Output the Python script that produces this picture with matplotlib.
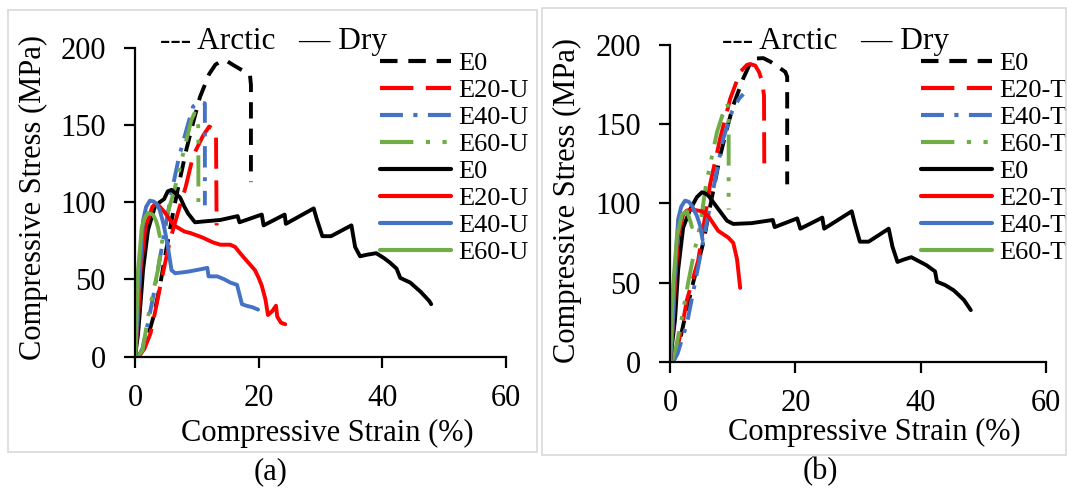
import matplotlib
matplotlib.use("Agg")
import matplotlib.pyplot as plt
from matplotlib.patches import Rectangle

plt.rcParams['font.family'] = ['Liberation Serif', 'DejaVu Serif']

# ---- panel (a): untreated ----
a_arc_e0_x = [0.5, 1.0, 2.0, 3.0, 4.0, 5.0, 6.0, 7.0, 8.3, 9.5, 10.5, 12.0, 13.0, 14.0, 15.0, 16.0, 17.5, 18.6, 18.75, 18.75]
a_arc_e0_y = [0, 3, 12, 26, 45, 68, 90, 110, 134, 153, 168, 183, 189, 191.5, 191, 188.5, 185, 182, 176, 113]
a_arc_e20_x = [0.6, 1.5, 2.5, 3.2, 4.3, 5.7, 7.0, 8.2, 9.4, 11.0, 12.0, 12.8, 13.1, 13.2]
a_arc_e20_y = [0, 5, 15, 28, 50, 76, 94, 110, 130, 143, 149, 147, 143, 85]
a_arc_e40_x = [0.5, 1.2, 2.1, 3.0, 3.7, 5.0, 6.1, 7.1, 8.4, 9.4, 10.5, 11.3, 11.3]
a_arc_e40_y = [0, 5, 22, 40, 56, 86, 110, 129, 148, 162, 165, 164, 98]
a_arc_e60_x = [0.4, 1.2, 2.4, 3.7, 4.8, 6.5, 7.4, 8.3, 9.1, 9.6, 10.2, 10.25, 10.25]
a_arc_e60_y = [0, 4, 32, 56, 86, 110, 125, 140, 153, 157.5, 156.5, 136, 97]

a_dry_e0_x = [0, 0.5, 1.0, 1.3, 2.1, 3.2, 4.0, 4.7, 5.3, 5.9, 6.5, 7.3, 8.0, 8.6, 9.7, 11.0, 13.8, 16.6, 16.9,
              20.5, 20.8, 24.2, 24.4, 28.9, 29.4, 30.3, 31.7, 35.0, 35.6, 36.4, 37.5, 39.0, 40.2, 41.2, 42.3,
              42.9, 44.5, 46.2, 47.6, 47.9]
a_dry_e0_y = [0, 15, 40, 56, 82, 97, 100, 102, 107, 108, 106, 103, 97, 92.6, 87, 87.5, 88.5, 91, 87,
              92, 85, 92, 86, 96, 89, 78, 78, 85, 71, 65, 66, 67, 64, 61, 57,
              51, 48, 42, 36, 34]
a_dry_e20_x = [0, 0.5, 0.9, 1.7, 2.8, 3.3, 3.8, 4.7, 6.3, 8.0, 9.0, 11.0, 12.6, 13.8, 15.4, 16.2, 17.0, 18.3,
               19.4, 20.0, 20.5, 21.1, 21.5, 22.2, 22.8, 23.0, 23.6, 24.3]
a_dry_e20_y = [0, 25, 56, 84, 97, 99, 98, 94, 85, 81, 80, 77, 74, 72.5, 72.5, 71, 67, 61,
               56, 51, 46, 37, 27, 29.5, 33, 26, 22, 21]
a_dry_e40_x = [0, 0.2, 0.5, 0.8, 1.3, 1.8, 2.4, 3.0, 3.5, 4.0, 4.6, 5.0, 5.4, 5.9, 6.5, 8.5, 10.5, 11.7, 11.9,
               13.3, 14.5, 15.4, 16.5, 17.3, 18.0, 19.0, 19.9]
a_dry_e40_y = [0, 10, 40, 56, 88, 97, 101, 100.5, 99, 95, 86, 78, 69, 56, 54, 55, 56.5, 57.5, 52,
               52, 50, 48, 46.5, 34, 33, 32, 30.5]
a_dry_e60_x = [0, 0.2, 0.5, 1.1, 1.6, 2.1, 2.9, 3.4, 3.7, 4.0]
a_dry_e60_y = [0, 20, 56, 84, 90, 93, 92, 88, 84, 78]

# ---- panel (b): treated ----
b_arc_e0_x = [0.5, 1.0, 1.6, 2.5, 3.7, 5.3, 6.4, 8.0, 9.0, 10.1, 11.7, 12.8, 13.8, 14.9, 16.0, 17.1, 18.4, 18.7, 18.7]
b_arc_e0_y = [0, 5, 14, 30, 50, 75, 98, 130, 146, 162, 179, 188.5, 191.5, 191.7, 189.5, 186.6, 183, 180, 112]
b_arc_e20_x = [0.4, 1.1, 2.1, 2.7, 4.5, 6.4, 8.0, 9.6, 11.2, 12.3, 12.8, 13.6, 14.2, 14.7, 15.0, 15.05]
b_arc_e20_y = [0, 7, 26, 39, 64, 112, 141, 166, 183, 187.5, 188, 187, 183, 177, 168, 118]
b_arc_e40_x = [0.5, 1.2, 1.9, 2.7, 4.3, 6.4, 7.2, 8.5, 9.9, 11.0, 11.7]
b_arc_e40_y = [0, 5, 14, 24, 56, 98.5, 115, 141, 158, 166, 169]
b_arc_e60_x = [0.3, 1.0, 1.9, 2.9, 3.8, 4.8, 5.8, 7.5, 8.3, 9.1, 9.36, 9.36]
b_arc_e60_y = [0, 10, 28, 50, 68, 86, 113, 145, 155, 163, 160, 96]

b_dry_e0_x = [0, 0.8, 1.3, 2.1, 3.2, 4.3, 5.1, 5.5, 6.1, 7.5, 9.1, 10.1, 13.0, 16.4, 16.7, 20.3, 20.8, 24.3,
              24.6, 29.0, 29.5, 30.3, 31.7, 34.9, 35.5, 36.3, 37.3, 38.5, 40.9, 42.3, 42.6, 43.9, 45.3,
              46.9, 48.0]
b_dry_e0_y = [0, 26.5, 58, 84.7, 96, 104, 107, 106.5, 105, 97.5, 89, 87, 87.5, 89.5, 85, 90.5, 84, 91,
              84, 95, 87, 75.8, 75.8, 84, 72.6, 63, 64.5, 66, 61, 57, 50.5, 48.4, 45,
              39, 32.6]
b_dry_e20_x = [0, 0.4, 0.8, 1.3, 2.1, 2.7, 3.7, 5.1, 6.1, 7.7, 9.3, 10.1, 10.7, 11.2]
b_dry_e20_y = [0, 20, 48, 79, 93, 95.5, 96, 95, 92, 82.6, 78.4, 75, 64.6, 46.6]
b_dry_e40_x = [0, 0.4, 0.8, 1.3, 1.8, 2.4, 3.0, 3.5, 4.3, 4.8, 5.2]
b_dry_e40_y = [0, 20, 58, 90, 98, 101.7, 101, 98.5, 92, 86, 77]
b_dry_e60_x = [0, 0.2, 0.5, 1.1, 1.9, 2.7, 3.3, 3.5]
b_dry_e60_y = [0, 20, 48, 79, 93, 95, 88, 85]

x_ticks = [0, 20, 40, 60]
y_ticks = [0, 50, 100, 150, 200]

colors = ['black', '#FF0000', '#4472C4', '#70AD47']
arc_dashes = [(4.2, 2.6), (8, 3), (5.5, 2.5, 1, 2.5), (8, 3, 1, 3, 1, 3)]
LW = 2.8

panels = [
    dict(rect=[135 / 1067, 1 - 356.7 / 490, 371 / 1067, 309 / 490], suffix='-U',
         arc=[(a_arc_e0_x, a_arc_e0_y), (a_arc_e20_x, a_arc_e20_y), (a_arc_e40_x, a_arc_e40_y), (a_arc_e60_x, a_arc_e60_y)],
         dry=[(a_dry_e0_x, a_dry_e0_y), (a_dry_e20_x, a_dry_e20_y), (a_dry_e40_x, a_dry_e40_y), (a_dry_e60_x, a_dry_e60_y)],
         head_x=160, leg_x=380, cap='(a)', cap_x=271, frame=(8, 10, 537, 452),
         xlab=(0.519, -0.247), ylab=(-0.275, 0.514)),
    dict(rect=[670 / 1067, 1 - 361.7 / 490, 376 / 1067, 316.7 / 490], suffix='-T',
         arc=[(b_arc_e0_x, b_arc_e0_y), (b_arc_e20_x, b_arc_e20_y), (b_arc_e40_x, b_arc_e40_y), (b_arc_e60_x, b_arc_e60_y)],
         dry=[(b_dry_e0_x, b_dry_e0_y), (b_dry_e20_x, b_dry_e20_y), (b_dry_e40_x, b_dry_e40_y), (b_dry_e60_x, b_dry_e60_y)],
         head_x=722, leg_x=921, cap='(b)', cap_x=820, frame=(542, 8, 1066, 455),
         xlab=(0.543, -0.225), ylab=(-0.274, 0.51)),
]

fig = plt.figure(figsize=(10.67, 4.9), dpi=100)

for p in panels:
    x0, y0, x1, y1 = p['frame']
    fig.add_artist(Rectangle((x0 / 1067, 1 - y1 / 490), (x1 - x0) / 1067, (y1 - y0) / 490,
                             transform=fig.transFigure, fill=False, edgecolor='#d9d9d9', lw=1.2))

    ax = fig.add_axes(p['rect'])
    handles = []
    labels = ['E0', 'E20', 'E40', 'E60']
    for (xs, ys), c, d, lab in zip(p['arc'], colors, arc_dashes, labels):
        h, = ax.plot(xs, ys, color=c, lw=LW, dashes=d)
        handles.append((h, lab if lab == 'E0' else lab + p['suffix']))
    for (xs, ys), c, lab in zip(p['dry'], colors, labels):
        h, = ax.plot(xs, ys, color=c, lw=LW, solid_capstyle='round')
        handles.append((h, lab if lab == 'E0' else lab + p['suffix']))

    ax.set_xlim(0, 60)
    ax.set_ylim(0, 200)
    ax.set_xticks(x_ticks)
    ax.set_yticks(y_ticks)
    for s in ['top', 'right']:
        ax.spines[s].set_visible(False)
    for s in ['left', 'bottom']:
        ax.spines[s].set_linewidth(1.6)
    ax.tick_params(axis='both', direction='out', length=8, width=1.6, labelsize=22)
    ax.tick_params(axis='x', pad=12)
    ax.tick_params(axis='y', pad=13)
    ax.patch.set_alpha(0)

    ax.set_xlabel('Compressive Strain (%)', fontsize=22, va='center')
    ax.xaxis.set_label_coords(*p['xlab'])
    ax.set_ylabel('Compressive Stress (MPa)', fontsize=22, va='center')
    ax.yaxis.set_label_coords(*p['ylab'])

    leg = ax.legend([h for h, _ in handles], [l for _, l in handles],
                    loc='upper left', bbox_to_anchor=(p['leg_x'] / 1067, 1 - 52 / 490),
                    bbox_transform=fig.transFigure, frameon=False, fontsize=19,
                    handlelength=2.7, handletextpad=0.25, labelspacing=0.13,
                    borderpad=0, borderaxespad=0)
    for ln in leg.get_lines():
        ln.set_linewidth(3)

    fig.text(p['head_x'] / 1067, 1 - 41 / 490, '--- Arctic   \u2014 Dry', fontsize=22.5,
             ha='left', va='center')
    fig.text(p['cap_x'] / 1067, 1 - 472 / 490, p['cap'], fontsize=22, ha='center', va='center')

fig.savefig('out.png', dpi=100)
